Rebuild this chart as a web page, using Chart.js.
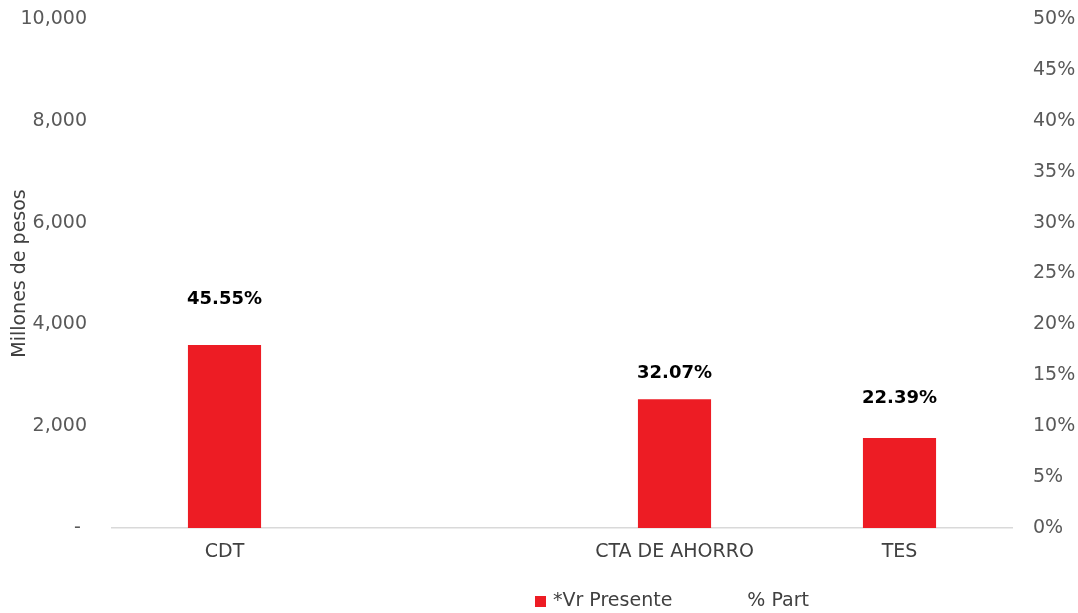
<!DOCTYPE html>
<html>
<head>
<meta charset="utf-8">
<script src="https://cdn.jsdelivr.net/npm/chart.js@4"></script>
<style>
  html, body { margin: 0; padding: 0; background: #fff; }
  #wrap { width: 1078px; height: 613px; }
</style>
</head>
<body>
<div id="wrap"><canvas id="portafolio"></canvas></div>
<script>
// datos
const categorias = ['CDT', '', 'CTA DE AHORRO', 'TES']
const vrPresente = [3594, null, 2530, 1767]
const partPct = [45.55, null, 32.07, 22.39]

const FONT = '"DejaVu Sans", sans-serif'
const ROJO = '#ED1C24'

// etiquetas % sobre las barras
const etiquetas = {
  id: 'etiquetas',
  afterDatasetsDraw (chart) {
    const ctx = chart.ctx
    const meta = chart.getDatasetMeta(0)
    const subir = [46, 0, 26, 40]
    ctx.save()
    ctx.font = 'bold 18px ' + FONT
    ctx.fillStyle = '#000'
    ctx.textAlign = 'center'
    ctx.textBaseline = 'middle'
    meta.data.forEach((bar, i) => {
      if (partPct[i] == null) return
      ctx.fillText(partPct[i].toFixed(2) + '%', bar.x, bar.y - subir[i])
    })
    ctx.restore()
  }
}

// leyenda al estilo excel
const leyenda = {
  id: 'leyenda',
  afterDraw (chart) {
    const ctx = chart.ctx
    let x = 535
    const y = 601
    ctx.save()
    ctx.font = '19px ' + FONT
    ctx.textBaseline = 'middle'
    chart.data.datasets.forEach(ds => {
      if (ds.type !== 'line') {
        ctx.fillStyle = ds.backgroundColor
        ctx.fillRect(x, y - 5, 11, 11)
      }
      x += 18
      ctx.fillStyle = '#404040'
      ctx.fillText(ds.label, x, y)
      x += ctx.measureText(ds.label).width + 57
    })
    ctx.restore()
  }
}

new Chart(document.getElementById('portafolio'), {
  type: 'bar',
  data: {
    labels: categorias,
    datasets: [
      {
        label: '*Vr Presente',
        data: vrPresente,
        backgroundColor: ROJO,
        yAxisID: 'y',
        categoryPercentage: 1,
        barPercentage: 0.325,
        order: 2
      },
      {
        type: 'line',
        label: '% Part',
        data: partPct,
        yAxisID: 'y2',
        borderColor: 'rgba(0,0,0,0)',
        backgroundColor: 'rgba(0,0,0,0)',
        pointRadius: 0,
        order: 1
      }
    ]
  },
  options: {
    responsive: true,
    maintainAspectRatio: false,
    animation: false,
    layout: { padding: { top: 19, bottom: 0, left: 0, right: 0 } },
    plugins: {
      legend: { display: false },
      tooltip: { enabled: false }
    },
    scales: {
      x: {
        grid: { display: false, drawTicks: false },
        border: { color: '#d9d9d9', width: 1.5 },
        ticks: { color: '#404040', font: { family: FONT, size: 19 }, padding: 13, autoSkip: false, maxRotation: 0 },
        afterFit (s) { s.height = 85 }
      },
      y: {
        position: 'left',
        min: 0,
        max: 10000,
        grid: { display: false, drawTicks: false },
        border: { display: false },
        ticks: {
          stepSize: 2000,
          padding: 25,
          color: '#595959',
          font: { family: FONT, size: 19 },
          callback: v => v === 0 ? '- ' : v.toLocaleString('en-US')
        },
        title: {
          display: true,
          text: 'Millones de pesos',
          color: '#404040',
          font: { family: FONT, size: 19 },
          padding: { top: 9, bottom: 0 }
        },
        afterFit (s) { s.width = 112; s.paddingTop = 0; s.paddingBottom = 0 }
      },
      y2: {
        position: 'right',
        min: 0,
        max: 50,
        grid: { display: false, drawTicks: false },
        border: { display: false },
        ticks: {
          stepSize: 5,
          padding: 21,
          color: '#595959',
          font: { family: FONT, size: 19 },
          callback: v => v + '%'
        },
        afterFit (s) { s.width = 66; s.paddingTop = 0; s.paddingBottom = 0 }
      }
    }
  },
  plugins: [etiquetas, leyenda]
})
</script>
</body>
</html>
